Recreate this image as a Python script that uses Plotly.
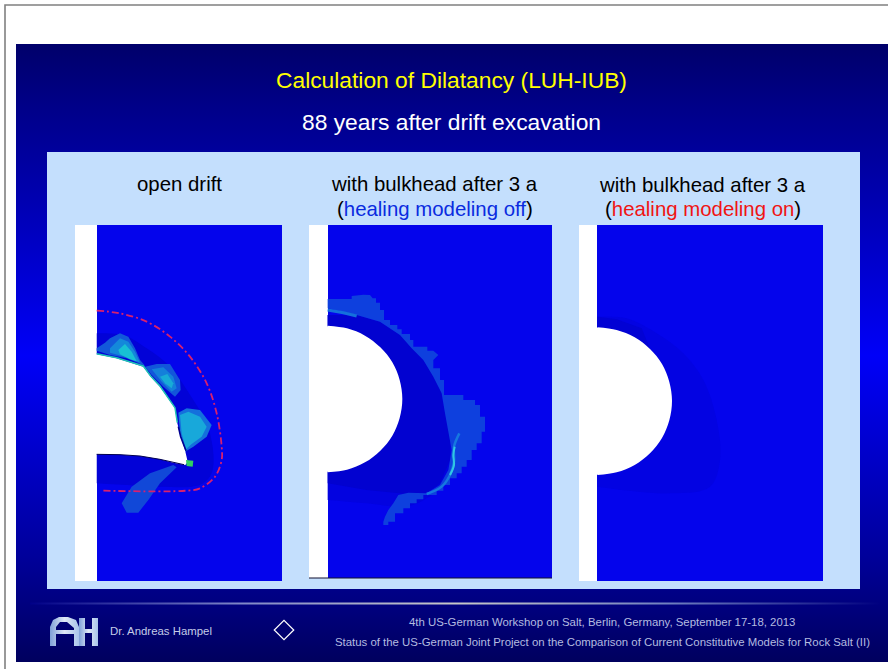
import plotly.graph_objects as go

W, H = 888, 669

# ---------- slide geometry / text ----------
slide_x = [16, 888, 888, 16, 16]
slide_y = [44, 44, 662, 662, 44]
bg_stops = [[0.0, "#00005e"], [0.17, "#00009a"], [0.495, "#0000f8"], [0.75, "#0000b0"], [0.9, "#000088"], [1.0, "#00006a"]]

title = "Calculation of Dilatancy (LUH-IUB)"
subtitle = "88 years after drift excavation"
head1 = "open drift"
head2 = "with bulkhead after 3 a"
head2b = "(<span style='color:#0a2be0'>healing modeling off</span>)"
head3b = "(<span style='color:#f01414'>healing modeling on</span>)"
foot_author = "Dr. Andreas Hampel"
foot_1 = "4th US-German Workshop on Salt, Berlin, Germany, September 17-18, 2013"
foot_2 = "Status of the US-German Joint Project on the Comparison of Current Constitutive Models for Rock Salt (II)"

# ---------- panel 1 outlines, crop pixels (origin 60,220, 3x) ----------
p1_drift_x = [100,110,170,215,250,272,300,345,352,362,375,383,376,340,300,240,180,110,100]
p1_drift_y = [403,403,415,428,440,470,500,565,610,650,690,725,735,728,718,708,704,703,703]
p1_dark_x = [110,190,260,330,400,440,460,455,430,395,300,110]
p1_dark_y = [340,345,385,440,540,610,700,760,790,800,800,790]
p1_a_x = [110,135,150,180,205,225,240,255,200,150,110]
p1_a_y = [385,368,355,340,350,385,420,437,415,405,392]
p1_a2_x = [150,180,205,225,240,200,150]
p1_a2_y = [385,355,365,395,428,412,398]
p1_a3_x = [175,195,215,230,210,180]
p1_a3_y = [390,372,395,424,418,403]
p1_b_x = [255,290,330,360,362,345,310,275]
p1_b_y = [440,432,432,480,510,530,500,465]
p1_b2_x = [275,310,340,350,335,305]
p1_b2_y = [448,442,470,505,515,485]
p1_b3_x = [300,322,340,335,315]
p1_b3_y = [470,462,490,505,490]
p1_c_x = [355,380,420,455,440,400,375,360]
p1_c_y = [578,565,570,615,650,680,695,640]
p1_c2_x = [360,385,420,440,425,395,378,365]
p1_c2_y = [585,575,590,620,650,672,688,640]
p1_d_x = [185,215,270,340,350,300,265,235,200]
p1_d_y = [850,800,760,735,742,790,840,878,878]
p1_green_x = [378,400,398,380]
p1_green_y = [720,722,740,738]
p1_edge_x = [110,170,250,272,300,345,352]
p1_edge_y = [401,413,438,468,498,563,608]
p1_shadow_x = [355,362,378]
p1_shadow_y = [620,650,692]
p1_under_x = [110,180,240,300,372]
p1_under_y = [703,704,708,718,734]
p1_red_x = [110,180,260,330,390,440,470,485,485,465,420,380,125]
p1_red_y = [272,280,305,350,410,490,580,680,720,770,805,812,812]

# ---------- panel 2 outlines (origin 300,220, 3x) ----------
p2_drift_x = [83,141,195,241,277,299,307,299,277,241,195,141,83]
p2_drift_y = [317,325,347,382,427,480,537,594,647,692,727,749,757]
p2_seam_x = [83,83]
p2_seam_y = [319,755]
p2_fade_x = [83,300,420,455,455,420,380,320,200,83]
p2_fade_y = [285,345,500,650,720,800,835,860,850,840]
p2_dark_x = [83,170,240,300,370,420,435,450,450,420,380,320,200,83]
p2_dark_y = [285,285,305,345,420,500,580,650,720,790,820,822,810,790]
p2_patch_x = [83,155,155,190,210,218,228,228,240,240,252,252,270,270,292,292,305,305,330,330,340,340,382,382,400,415,400,400,420,420,432,432,490,490,525,525,540,540,555,555,545,545,530,530,515,515,500,500,485,485,470,470,450,450,430,430,410,410,370,370,350,350,330,330,310,310,285,285,265,265,250,250,255,265,280,295,325,380,420,445,455,445,435,425,400,370,335,300,240,170,83]
p2_patch_y = [237,237,228,224,225,235,235,248,248,270,270,300,300,315,315,328,328,342,342,360,360,380,380,392,392,405,420,445,445,480,480,525,525,540,540,555,555,590,590,635,635,670,670,690,690,720,720,740,740,760,760,775,775,795,795,812,812,825,825,838,838,850,850,865,865,880,880,905,905,915,915,905,890,870,850,825,818,820,795,750,690,640,580,520,470,420,385,345,305,285,265]
p2_streak_x = [83,130,170]
p2_streak_y = [270,278,288]
p2_band_x = [478,462,462,450,425,380]
p2_band_y = [640,680,725,765,800,822]
p2_cyan_x = [464,460,462,450]
p2_cyan_y = [680,705,735,765]

# ---------- panel 3 (origin 570,220, 3x) ----------
p3_drift_x = [82,140,194,240,276,298,306,298,276,240,194,140,82]
p3_drift_y = [322,330,352,387,432,486,543,601,654,700,735,757,765]
p3_seam_x = [82,82]
p3_seam_y = [324,763]
p3_dark_x = [82,170,260,340,400,440,450,420,300,82]
p3_dark_y = [290,295,340,400,480,600,720,800,820,800]
p3_rim_x = [82,140,215,240,194,140,82]
p3_rim_y = [290,298,325,387,352,330,322]

# ---------- logo (pixels) ----------
logo_a_x = [50,50,53,59,68,76,79,79,74,74,67,60,56,56,74,74,56,56]
logo_a_y = [646,627,620,617,617,620,627,646,646,628,622,622,627,630,630,634,634,646]
logo_h_x = [79,85,85,92,92,98,98,92,92,85,85,79]
logo_h_y = [618,618,629,629,618,618,646,646,633,633,646,646]

fig = go.Figure()


def poly(xs, ys, color, opacity=1.0, gradient=None, shape="linear"):
    kw = dict(fillgradient=gradient) if gradient else dict(fillcolor=color)
    fig.add_trace(go.Scatter(x=xs, y=ys, mode="lines", fill="toself", line=dict(width=0, shape=shape),
                             opacity=opacity, hoverinfo="skip", showlegend=False, **kw))


def rect(x0, x1, y0, y1, color):
    poly([x0, x1, x1, x0, x0], [y0, y0, y1, y1, y0], color)


def crop(ox, oy, xs, ys):
    return [ox + v / 3 for v in xs], [oy + v / 3 for v in ys]


def stroke(ox, oy, xs, ys, color, width, shape="linear"):
    px, py = crop(ox, oy, xs, ys)
    fig.add_trace(go.Scatter(x=px, y=py, mode="lines", line=dict(color=color, width=width, shape=shape),
                             hoverinfo="skip", showlegend=False))


# frame & background
fig.add_trace(go.Scatter(x=[5, 5, 888], y=[669, 5, 5], mode="lines", line=dict(color="#808080", width=1.6),
                         hoverinfo="skip", showlegend=False))
poly(slide_x, slide_y, None, gradient=dict(type="vertical", colorscale=bg_stops))
rect(47, 860, 152, 589, "#c4dffd")

BLUE = "#0404ec"
DARK = "#0202d0"

# panel 1
rect(75, 97, 225, 581, "#ffffff")
rect(97, 282, 225, 581, BLUE)
poly(*crop(60, 220, p1_dark_x, p1_dark_y), DARK, 0.75, shape="spline")
poly(*crop(60, 220, p1_a_x, p1_a_y), "#1258da")
poly(*crop(60, 220, p1_a2_x, p1_a2_y), "#1488da")
poly(*crop(60, 220, p1_a3_x, p1_a3_y), "#18c0d4")
poly(*crop(60, 220, p1_b_x, p1_b_y), "#1256da")
poly(*crop(60, 220, p1_b2_x, p1_b2_y), "#1480da")
poly(*crop(60, 220, p1_b3_x, p1_b3_y), "#18acd6")
poly(*crop(60, 220, p1_c_x, p1_c_y), "#1470dc")
poly(*crop(60, 220, p1_c2_x, p1_c2_y), "#18a8da")
poly(*crop(60, 220, p1_d_x, p1_d_y), "#1148d8")
poly(*crop(60, 220, p1_drift_x, p1_drift_y), "#ffffff")
stroke(60, 220, p1_edge_x, p1_edge_y, "#20c4b4", 1.5)
stroke(60, 220, p1_shadow_x, p1_shadow_y, "#000090", 1.6)
stroke(60, 220, p1_under_x, p1_under_y, "#000050", 1)
poly(*crop(60, 220, p1_green_x, p1_green_y), "#30d060")
stroke(60, 220, p1_red_x, p1_red_y, "#d8206e", 1.8, "spline")
fig.data[-1].line.dash = "7px,3px,2px,3px"

# panel 2
rect(309, 328, 225, 578, "#ffffff")
rect(328, 552, 225, 578, BLUE)
poly(*crop(300, 220, p2_fade_x, p2_fade_y), "#0303e0", shape="spline")
poly(*crop(300, 220, p2_dark_x, p2_dark_y), DARK)
poly(*crop(300, 220, p2_patch_x, p2_patch_y), "#0e40de")
stroke(300, 220, p2_streak_x, p2_streak_y, "#1470dc", 3)
stroke(300, 220, p2_band_x, p2_band_y, "#1678e0", 2.5, "spline")
stroke(300, 220, p2_cyan_x, p2_cyan_y, "#30c8e4", 2, "spline")
poly(*crop(300, 220, p2_drift_x, p2_drift_y), "#ffffff", shape="spline")
stroke(300, 220, p2_seam_x, p2_seam_y, "#ffffff", 2.5)
fig.add_trace(go.Scatter(x=[309, 552], y=[578, 578], mode="lines", line=dict(color="#101030", width=1.2), hoverinfo="skip", showlegend=False))

# panel 3
rect(579, 597, 225, 581, "#ffffff")
rect(597, 823, 225, 581, BLUE)
poly(*crop(570, 220, p3_dark_x, p3_dark_y), "#0303e2", shape="spline")
poly(*crop(570, 220, p3_rim_x, p3_rim_y), "#0202d4")
poly(*crop(570, 220, p3_drift_x, p3_drift_y), "#ffffff", shape="spline")
stroke(570, 220, p3_seam_x, p3_seam_y, "#ffffff", 2.5)

# divider
div_stops = [[0, "#000088"], [0.25, "#8088c8"], [0.5, "#c8c8c8"], [0.75, "#7080c0"], [1, "#000080"]]
poly([30, 880, 880, 30, 30], [602.5, 602.5, 604.5, 604.5, 602.5], None,
     gradient=dict(type="horizontal", colorscale=div_stops))

# logo
logo_grad = dict(type="horizontal", colorscale=[[0, "#7fa0d8"], [0.5, "#dfe8f6"], [1, "#a8c4ea"]])
poly(logo_a_x, logo_a_y, None, gradient=logo_grad)
poly(logo_h_x, logo_h_y, None, gradient=logo_grad)

# diamond
fig.add_trace(go.Scatter(x=[284], y=[630], mode="markers", marker=dict(symbol="diamond-open", size=15, color="#ffffff", line=dict(width=1.2, color="#ffffff")),
                         hoverinfo="skip", showlegend=False))

ff = "Liberation Sans, Arial, sans-serif"


def label(x, y, text, size, color, anchor="center"):
    fig.add_annotation(x=x, y=y, text=text, showarrow=False, xanchor=anchor, yanchor="middle",
                       font=dict(family=ff, size=size, color=color), xref="x", yref="y")


label(451, 80, title, 22.8, "#ffff00")
label(451.5, 121.5, subtitle, 22.8, "#ffffff")
label(179.5, 184, head1, 20.4, "#000000")
label(434.5, 184, head2, 20.4, "#000000")
label(434.5, 209, head2b, 20.4, "#000000")
label(702.5, 185, head2, 20.4, "#000000")
label(702.5, 209, head3b, 20.4, "#000000")
label(107.5, 631, foot_author, 11.4, "#c4cce8", "left")
label(602, 622, foot_1, 11.4, "#b4bce0")
label(602, 642, foot_2, 11.4, "#b4bce0")

fig.update_layout(width=W, height=H, autosize=False, margin=dict(l=0, r=0, t=0, b=0),
                  paper_bgcolor="#ffffff", plot_bgcolor="#ffffff", showlegend=False,
                  xaxis=dict(range=[0, W], visible=False, fixedrange=True),
                  yaxis=dict(range=[H, 0], visible=False, fixedrange=True))
fig.write_html("out.html", config=dict(displayModeBar=False),
               post_script="document.body.style.margin='0';document.documentElement.style.overflow='hidden';")
